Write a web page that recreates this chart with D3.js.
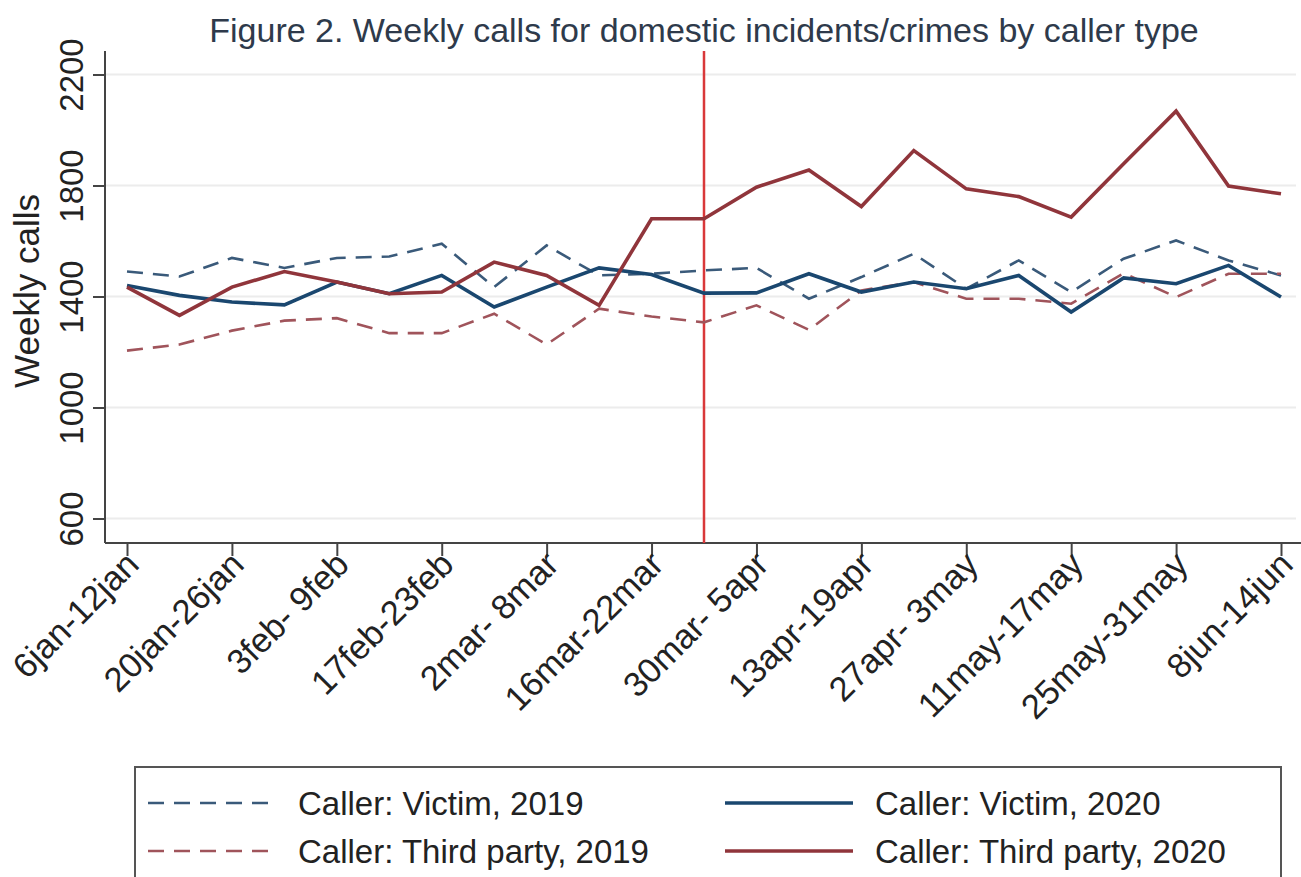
<!DOCTYPE html>
<html lang="en">
	<head>
		<meta charset="utf-8">
		<title>Weekly calls by caller type</title>
		<script type="text/javascript" src="https://cdn.jsdelivr.net/npm/d3@7"></script>
		<style type="text/css">
			body { margin: 0; background: #fff; }
			text { font-family: "Liberation Sans", Arial, sans-serif; }
		</style>
	</head>
	<body>
		<script type="text/javascript">

			//Week labels (23 weeks, 6 Jan - 14 Jun)
			var weeks = ["6jan-12jan", "13jan-19jan", "20jan-26jan", "27jan- 2feb", "3feb- 9feb",
				"10feb-16feb", "17feb-23feb", "24feb- 1mar", "2mar- 8mar", "9mar-15mar",
				"16mar-22mar", "23mar-29mar", "30mar- 5apr", "6apr-12apr", "13apr-19apr",
				"20apr-26apr", "27apr- 3may", "4may-10may", "11may-17may", "18may-24may",
				"25may-31may", "1jun- 7jun", "8jun-14jun"];

			//Labelled weeks on the x axis (every other week)
			var tickWeeks = weeks.filter(function(d, i) { return i % 2 === 0; });

			//Week of the lockdown (red vertical line)
			var lockdownWeek = "23mar-29mar";

			var yTicks = [600, 1000, 1400, 1800, 2200];

			//Series values
			var victim2019 = [1490, 1472, 1539, 1503, 1539, 1544, 1590, 1434, 1584, 1476, 1482, 1494,
				1503, 1392, 1470, 1554, 1428, 1530, 1416, 1536, 1602, 1530, 1476];
			var victim2020 = [1440, 1404, 1380, 1370, 1452, 1410, 1476, 1362, 1434, 1503, 1479, 1412,
				1413, 1482, 1416, 1452, 1428, 1476, 1344, 1467, 1446, 1512, 1398];
			var third2019 = [1205, 1227, 1277, 1313, 1322, 1268, 1268, 1338, 1227, 1356, 1328, 1307,
				1368, 1280, 1422, 1452, 1392, 1392, 1374, 1484, 1398, 1482, 1482];
			var third2020 = [1434, 1332, 1434, 1490, 1452, 1410, 1416, 1524, 1476, 1368, 1680, 1680,
				1794, 1856, 1724, 1926, 1788, 1760, 1686, 1878, 2068, 1798, 1770];

			var seriesNames = ["Caller: Victim, 2019", "Caller: Third party, 2019",
				"Caller: Victim, 2020", "Caller: Third party, 2020"];

			var series = [
				{ name: seriesNames[0], values: victim2019, color: "#3a5a7a", dash: "16,10", width: 2.6 },
				{ name: seriesNames[1], values: third2019, color: "#a0545b", dash: "16,10", width: 2.6 },
				{ name: seriesNames[2], values: victim2020, color: "#1a476f", dash: null, width: 3.6 },
				{ name: seriesNames[3], values: third2020, color: "#90353b", dash: null, width: 3.6 }
			];

			//Width and height
			var w = 1301;
			var h = 877;

			var plotLeft = 105, plotRight = 1301, plotTop = 51, plotBottom = 543;

			var xScale = d3.scalePoint()
						.domain(weeks)
						.range([127, 1281]);

			var yScale = d3.scaleLinear()
						.domain([600, 2200])
						.range([518.5, 74.5]);

			var svg = d3.select("body")
						.append("svg")
						.attr("width", w)
						.attr("height", h);

			//Title
			svg.append("text")
				.attr("x", 704)
				.attr("y", 42)
				.attr("text-anchor", "middle")
				.attr("font-size", "34px")
				.attr("fill", "#2e3a4b")
				.text("Figure 2. Weekly calls for domestic incidents/crimes by caller type");

			//Gridlines
			svg.append("g")
				.selectAll("line")
				.data(yTicks)
				.enter()
				.append("line")
				.attr("x1", plotLeft)
				.attr("x2", 1296)
				.attr("y1", function(d) { return yScale(d); })
				.attr("y2", function(d) { return yScale(d); })
				.attr("stroke", "#ececec")
				.attr("stroke-width", 2);

			//Y axis
			var yAxis = d3.axisLeft(yScale)
						.tickValues(yTicks)
						.tickSize(12)
						.tickPadding(0)
						.tickFormat(d3.format("d"));

			var gy = svg.append("g")
				.attr("transform", "translate(" + plotLeft + ",0)")
				.call(yAxis);
			gy.select(".domain").remove();
			gy.append("line")
				.attr("x1", 0).attr("x2", 0)
				.attr("y1", plotTop).attr("y2", plotBottom)
				.attr("stroke", "#444").attr("stroke-width", 2);
			gy.selectAll(".tick line").attr("stroke", "#444").attr("stroke-width", 2);
			gy.selectAll(".tick text")
				.attr("x", null).attr("dy", null)
				.attr("transform", "translate(-22,0) rotate(-90)")
				.attr("text-anchor", "middle")
				.attr("font-size", "33px")
				.attr("font-family", "Liberation Sans, Arial, sans-serif")
				.attr("fill", "#222");

			//Y axis title
			svg.append("text")
				.attr("transform", "translate(39," + 291 + ") rotate(-90)")
				.attr("text-anchor", "middle")
				.attr("font-size", "35px")
				.attr("fill", "#222")
				.text("Weekly calls");

			//X axis
			var xAxis = d3.axisBottom(xScale)
						.tickValues(tickWeeks)
						.tickSize(13)
						.tickPadding(0);

			var gx = svg.append("g")
				.attr("transform", "translate(0," + plotBottom + ")")
				.call(xAxis);
			gx.select(".domain").remove();
			gx.append("line")
				.attr("x1", plotLeft).attr("x2", plotRight)
				.attr("y1", 0).attr("y2", 0)
				.attr("stroke", "#444").attr("stroke-width", 2);
			gx.selectAll(".tick line").attr("stroke", "#444").attr("stroke-width", 2);
			gx.selectAll(".tick text")
				.attr("y", null).attr("dy", null)
				.attr("transform", "translate(7,17) rotate(-45)")
				.attr("text-anchor", "end")
				.attr("dominant-baseline", "middle")
				.attr("font-size", "34.5px")
				.attr("font-family", "Liberation Sans, Arial, sans-serif")
				.attr("fill", "#222");

			//Lockdown line
			svg.append("line")
				.attr("x1", xScale(lockdownWeek))
				.attr("x2", xScale(lockdownWeek))
				.attr("y1", plotTop)
				.attr("y2", plotBottom)
				.attr("stroke", "#d9383a")
				.attr("stroke-width", 2.5);

			//Lines
			var line = d3.line()
						.x(function(d, i) { return xScale(weeks[i]); })
						.y(function(d) { return yScale(d); });

			svg.append("g")
				.selectAll("path")
				.data(series)
				.enter()
				.append("path")
				.attr("d", function(d) { return line(d.values); })
				.attr("fill", "none")
				.attr("stroke", function(d) { return d.color; })
				.attr("stroke-width", function(d) { return d.width; })
				.attr("stroke-dasharray", function(d) { return d.dash; })
				.attr("stroke-linejoin", "miter");

			//Legend
			var legend = svg.append("g");
			legend.append("rect")
				.attr("x", 135)
				.attr("y", 767)
				.attr("width", 1146)
				.attr("height", 120)
				.attr("fill", "#fff")
				.attr("stroke", "#555")
				.attr("stroke-width", 2);

			var items = legend.selectAll("g.item")
				.data(series)
				.enter()
				.append("g")
				.attr("class", "item")
				.attr("transform", function(d, i) {
					var col = Math.floor(i / 2), row = i % 2;
					return "translate(" + (col === 0 ? 148 : 725) + "," + (row === 0 ? 803 : 851) + ")";
				});

			items.append("line")
				.attr("x1", 0)
				.attr("x2", 128)
				.attr("y1", 0)
				.attr("y2", 0)
				.attr("stroke", function(d) { return d.color; })
				.attr("stroke-width", function(d) { return d.width; })
				.attr("stroke-dasharray", function(d) { return d.dash; });

			items.append("text")
				.attr("x", 150)
				.attr("y", 0)
				.attr("dy", "0.35em")
				.attr("font-size", "33px")
				.attr("fill", "#222")
				.text(function(d) { return d.name; });

		</script>
	</body>
</html>
